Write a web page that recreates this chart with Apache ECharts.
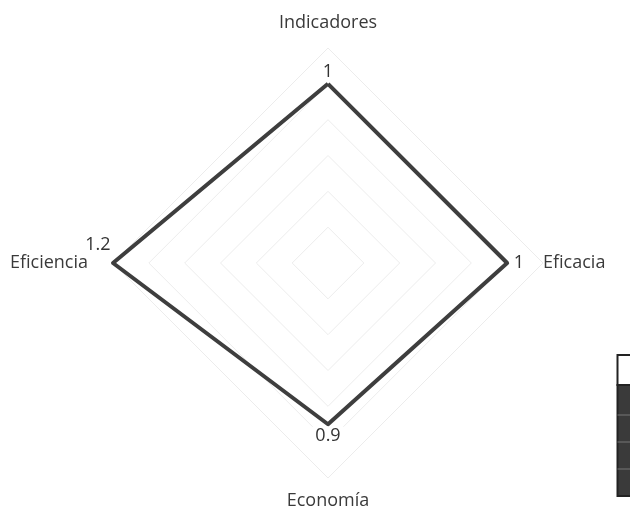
<!DOCTYPE html>
<html>
<head>
<meta charset="utf-8">
<script src="https://cdn.jsdelivr.net/npm/echarts@6/dist/echarts.min.js"></script>
<style>
  html, body { margin: 0; padding: 0; background: #fff; }
  #radar_con { width: 630px; height: 525px; }
</style>
</head>
<body>
<div id="radar_con"></div>
<script>
// indicadores del gráfico radial (orden: arriba, izquierda, abajo, derecha)
const indicatorNames = ["Indicadores", "Eficiencia", "Economía", "Eficacia"];
const indicatorValues = [1, 1.2, 0.9, 1];
const axisMax = 1.2;
// where each value label sits relative to its vertex
const labelPositions = ["top", "left", "bottom", "right"];

let radarChart = echarts.init(document.getElementById("radar_con"));

// one label per vertex: formatter only answers for its own dimension
function onlyDim(k) {
  let count = 0;
  return function(p) {
    if (p.status && p.status !== "normal") return "";
    let d = count % indicatorValues.length;
    count++;
    return d === k ? String(p.value) : "";
  };
}

let labelSeries = labelPositions.map(function(pos, k) {
  return {
    type: "radar",
    symbol: "circle",
    symbolSize: 1,
    itemStyle: { color: "rgba(0,0,0,0)" },
    lineStyle: { color: "rgba(0,0,0,0)", width: 0 },
    silent: true,
    z: 3,
    label: {
      show: true,
      position: pos,
      distance: pos === "left" ? -2 : 2,
      offset: pos === "left" ? [0, -18] : [0, 0],
      color: "#333",
      fontSize: 18,
      fontFamily: "Open Sans",
      backgroundColor: "#fff",
      padding: [0, 4],
      formatter: onlyDim(k)
    },
    data: [{ value: indicatorValues }]
  };
});

let nameStyle = { fontSize: 18, fontFamily: "Open Sans", color: "#3a3a3a" };

let option = {
  animation: false,
  radar: {
    center: [328, 263],
    radius: 215,
    startAngle: 90,
    splitNumber: 6,
    shape: "polygon",
    nameGap: 0,
    indicator: indicatorNames.map(function(n) {
      return { name: n, max: axisMax, min: 0 };
    }),
    axisName: {
      color: "#3a3a3a",
      fontSize: 18,
      fontFamily: "Open Sans",
      formatter: function(name) {
        let i = indicatorNames.indexOf(name);
        if (i === 0) return "{up|" + name + "}";
        if (i === 1) return "{left|" + name + "}";
        if (i === 2) return "{down|" + name + "}";
        return name;
      },
      rich: {
        up: Object.assign({ padding: [0, 0, 16, 0] }, nameStyle),
        left: Object.assign({ padding: [0, 25, 0, 0] }, nameStyle),
        down: Object.assign({ padding: [14, 0, 0, 0] }, nameStyle)
      }
    },
    axisLine: { show: false },
    splitArea: { show: false },
    splitLine: {
      lineStyle: { color: "#ececec", width: 1 }
    }
  },
  graphic: [
    {
      type: "group",
      left: 615,
      top: 354,
      children: [
        { type: "rect", shape: { x: 0, y: 0, width: 20, height: 30 }, style: { fill: "#fff", stroke: "#222", lineWidth: 2 } },
        { type: "rect", shape: { x: 0, y: 30, width: 20, height: 111 }, style: { fill: "#3a3a3a", stroke: "#222", lineWidth: 2 } },
        { type: "line", shape: { x1: 0, y1: 60, x2: 20, y2: 60 }, style: { stroke: "#777", lineWidth: 1 } },
        { type: "line", shape: { x1: 0, y1: 87, x2: 20, y2: 87 }, style: { stroke: "#777", lineWidth: 1 } },
        { type: "line", shape: { x1: 0, y1: 114, x2: 20, y2: 114 }, style: { stroke: "#777", lineWidth: 1 } }
      ]
    }
  ],
  series: [
    {
      type: "radar",
      symbol: "none",
      z: 2,
      lineStyle: { color: "#3e3e3e", width: 4 },
      data: [{ value: indicatorValues }]
    }
  ].concat(labelSeries)
};

radarChart.setOption(option);
</script>
</body>
</html>
